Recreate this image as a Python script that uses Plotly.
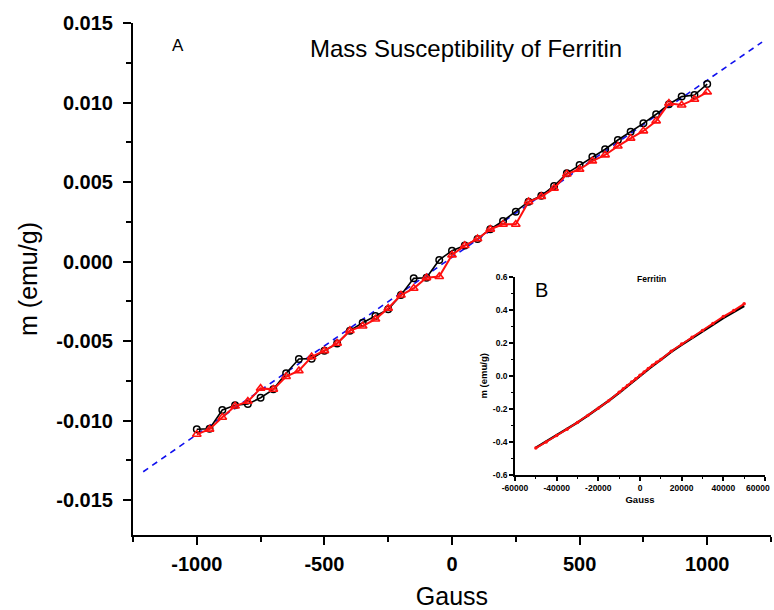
import plotly.graph_objects as go

# ---------------- main panel data (A) ----------------
field_G = [-1000, -950, -900, -850, -800, -750, -700, -650, -600, -550, -500,
           -450, -400, -350, -300, -250, -200, -150, -100, -50, 0,
           50, 100, 150, 200, 250, 300, 350, 400, 450, 500,
           550, 600, 650, 700, 750, 800, 850, 900, 950, 1000]

m_black = [-0.01055, -0.01052, -0.00934, -0.00904, -0.00896, -0.00857, -0.00804, -0.00703, -0.00613, -0.00611, -0.00561,
           -0.00515, -0.00435, -0.00385, -0.00343, -0.00301, -0.00211, -0.00106, -0.00102, 0.00010, 0.00068,
           0.00100, 0.00142, 0.00203, 0.00255, 0.00313, 0.00376, 0.00414, 0.00475, 0.00555, 0.00607,
           0.00659, 0.00706, 0.00764, 0.00816, 0.00869, 0.00926, 0.00989, 0.01037, 0.01047, 0.01116]

m_red = [-0.01087, -0.01055, -0.00980, -0.00909, -0.00880, -0.00798, -0.00804, -0.00724, -0.00687, -0.00599, -0.00561,
         -0.00515, -0.00435, -0.00406, -0.00362, -0.00294, -0.00211, -0.00169, -0.00102, -0.00095, 0.00041,
         0.00100, 0.00142, 0.00203, 0.00234, 0.00234, 0.00376, 0.00408, 0.00460, 0.00550, 0.00580,
         0.00632, 0.00670, 0.00726, 0.00775, 0.00821, 0.00884, 0.00995, 0.00984, 0.01020, 0.01066]

fit_x = [-1210, 1215]
fit_y = [-0.01322, 0.01380]

main_xticks = [-1000, -500, 0, 500, 1000]
main_xtext = ["-1000", "-500", "0", "500", "1000"]
main_yticks = [0.015, 0.010, 0.005, 0.0, -0.005, -0.010, -0.015]
main_ytext = ["0.015", "0.010", "0.005", "0.000", "-0.005", "-0.010", "-0.015"]

# ---------------- inset data (B) ----------------
inset_x_black = [-50000, -45000, -40000, -35000, -30000, -25000, -20000, -15000, -10000, -5000, 0,
                 5000, 10000, 15000, 20000, 25000, 30000, 35000, 40000, 45000, 50000]
inset_m_black = [-0.435, -0.398, -0.360, -0.322, -0.282, -0.240, -0.196, -0.151, -0.102, -0.050, 0.000,
                 0.050, 0.098, 0.146, 0.188, 0.230, 0.268, 0.310, 0.350, 0.388, 0.423]

inset_x_red = [-50000, -45000, -40000, -35000, -30000, -25000, -20000, -15000, -10000,
               -8000, -6000, -4000, -2000, 0, 2000, 4000, 6000, 8000,
               10000, 15000, 20000, 25000, 30000, 35000, 40000, 45000, 50000]
inset_m_red = [-0.437, -0.401, -0.361, -0.323, -0.282, -0.240, -0.196, -0.151, -0.099,
               -0.078, -0.058, -0.037, -0.017, 0.003, 0.024, 0.044, 0.064, 0.082,
               0.099, 0.149, 0.192, 0.234, 0.274, 0.317, 0.359, 0.395, 0.436]

inset_xticks = [-60000, -40000, -20000, 0, 20000, 40000, 60000]
inset_xtext = ["-60000", "-40000", "-20000", "0", "20000", "40000", ""]
inset_last_xlabel = "60000"
inset_yticks = [0.6, 0.4, 0.2, 0.0, -0.2, -0.4, -0.6]
inset_ytext = ["0.6", "0.4", "0.2", "0.0", "-0.2", "-0.4", "-0.6"]

FONT = "Liberation Sans, Arial, sans-serif"

fig = go.Figure()

fig.add_trace(go.Scatter(x=fit_x, y=fit_y, mode="lines",
                         line=dict(color="#1010ee", width=1.6, dash="6px,5px"),
                         showlegend=False, xaxis="x", yaxis="y"))
fig.add_trace(go.Scatter(x=field_G, y=m_black, mode="lines+markers",
                         line=dict(color="black", width=1.6),
                         marker=dict(symbol="circle-open", size=6.5, color="black", line=dict(width=1.5)),
                         showlegend=False, xaxis="x", yaxis="y"))
fig.add_trace(go.Scatter(x=field_G, y=m_red, mode="lines+markers",
                         line=dict(color="#ff1010", width=2),
                         marker=dict(symbol="triangle-up-open", size=7.5, color="#ff1010", line=dict(width=1.6)),
                         showlegend=False, xaxis="x", yaxis="y"))

# inset
fig.add_trace(go.Scatter(x=inset_x_black, y=inset_m_black, mode="lines",
                         line=dict(color="black", width=2.5),
                         showlegend=False, xaxis="x2", yaxis="y2"))
fig.add_trace(go.Scatter(x=inset_x_red, y=inset_m_red, mode="lines+markers",
                         line=dict(color="#ff1010", width=2),
                         marker=dict(symbol="circle", size=3.5, color="#ff1010"),
                         showlegend=False, xaxis="x2", yaxis="y2"))

axis_common = dict(showgrid=False, zeroline=False, showline=True, linecolor="black",
                   ticks="outside", tickcolor="black", automargin=False)

fig.update_layout(
    width=774, height=610,
    margin=dict(l=133, r=3, t=23, b=75),
    paper_bgcolor="white", plot_bgcolor="white",
    font=dict(family=FONT, color="black"),
    xaxis=dict(**axis_common, range=[-1250, 1250], linewidth=2, ticklen=8, tickwidth=2,
               tickvals=main_xticks, ticktext=main_xtext,
               tickfont=dict(size=20, weight="bold"), ticklabelstandoff=2,
               minor=dict(ticks="outside", dtick=250, tick0=0, ticklen=5, tickwidth=2, tickcolor="black"),
               title=dict(text="Gauss", font=dict(size=25), standoff=14),
               domain=[0, 1]),
    yaxis=dict(**axis_common, range=[-0.0172, 0.015], linewidth=2, ticklen=8, tickwidth=2,
               tickvals=main_yticks, ticktext=main_ytext,
               tickfont=dict(size=20, weight="bold"), ticklabelstandoff=6,
               minor=dict(ticks="outside", dtick=0.0025, tick0=0, ticklen=5, tickwidth=2, tickcolor="black"),
               title=dict(text="m (emu/g)", font=dict(size=25), standoff=12),
               domain=[0, 1]),
    xaxis2=dict(**axis_common, range=[-60000, 60000], linewidth=1.5, ticklen=4, tickwidth=1.5,
                tickvals=inset_xticks, ticktext=inset_xtext,
                tickfont=dict(size=8.5, weight="bold"),
                minor=dict(ticks="outside", dtick=10000, tick0=0, ticklen=2.5, tickwidth=1, tickcolor="black"),
                title=dict(text="Gauss", font=dict(size=9.5, weight="bold"), standoff=4),
                domain=[0.5987, 0.9906], anchor="y2"),
    yaxis2=dict(**axis_common, range=[-0.6, 0.6], linewidth=1.5, ticklen=4, tickwidth=1.5,
                tickvals=inset_yticks, ticktext=inset_ytext,
                tickfont=dict(size=8.5, weight="bold"),
                minor=dict(ticks="outside", dtick=0.1, tick0=0, ticklen=2.5, tickwidth=1, tickcolor="black"),
                title=dict(text="m (emu/g)", font=dict(size=9.5, weight="bold"), standoff=4),
                domain=[0.1172, 0.5045], anchor="x2"),
    annotations=[
        dict(text="A", x=0.0705, y=0.957, xref="paper", yref="paper", showarrow=False,
             font=dict(size=17), xanchor="center", yanchor="middle"),
        dict(text="Mass Susceptibility of Ferritin", x=0.522, y=0.951, xref="paper", yref="paper",
             showarrow=False, font=dict(size=24), xanchor="center", yanchor="middle"),
        dict(text="B", x=0.6395, y=0.478, xref="paper", yref="paper", showarrow=False,
             font=dict(size=20), xanchor="center", yanchor="middle"),
        dict(text="Ferritin", x=0.8125, y=0.5005, xref="paper", yref="paper", showarrow=False,
             font=dict(size=8.5, weight="bold"), xanchor="center", yanchor="middle"),
        dict(text=inset_last_xlabel, x=1.0, y=0.0918, xref="paper", yref="paper", showarrow=False,
             font=dict(size=8.5, weight="bold"), xanchor="right", yanchor="middle", borderpad=0),
    ],
)

fig.write_html("out.html")
